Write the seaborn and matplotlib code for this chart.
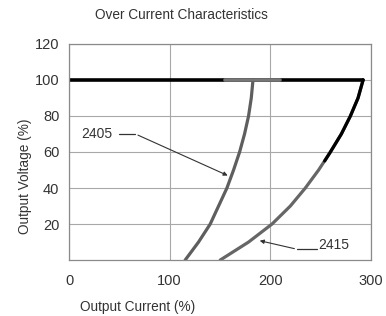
import pandas as pd
import seaborn as sns
import matplotlib.pyplot as plt

# curves: output voltage (%) vs output current (%)
volt = [0, 10, 20, 30, 40, 50, 60, 70, 80, 90, 100]
cur_2405 = [115.4, 128.7, 140.3, 148.6, 156.9, 163.5, 169.5, 174.4, 178.4, 181.1, 182.8]
cur_2415 = [150.2, 178.4, 201.7, 219.9, 234.8, 248.0, 259.7, 270.6, 279.6, 287.2, 292.2]

# part of 2415 drawn in black (upper part)
volt_2415_top = [55, 60, 70, 80, 90, 100]
cur_2415_top = [254.0, 259.7, 270.6, 279.6, 287.2, 292.2]

# flat 100 % line and its grey middle piece
flat_cur = [0, 292.2]
flat_grey_cur = [155, 210]

x_ticks = [0, 100, 200, 300]
y_ticks = [20, 40, 60, 80, 100, 120]

sns.set_style("white")
plt.rcParams['font.family'] = ['Liberation Sans', 'DejaVu Sans']

fig = plt.figure(figsize=(3.86, 3.16), dpi=100)
ax = fig.add_axes([0.1788, 0.177, 0.7822, 0.684])

df = pd.DataFrame({'I': cur_2405 + cur_2415, 'V': volt + volt,
                   'model': ['2405'] * len(volt) + ['2415'] * len(volt)})
sns.lineplot(data=df, x='I', y='V', hue='model', sort=False, ax=ax,
             palette={'2405': '#5e5e5e', '2415': '#666666'}, lw=2.3, legend=False)
sns.lineplot(x=cur_2415_top, y=volt_2415_top, sort=False, ax=ax, color='black', lw=2.3)
sns.lineplot(x=flat_cur, y=[100, 100], ax=ax, color='black', lw=2.6)
sns.lineplot(x=flat_grey_cur, y=[100, 100], ax=ax, color='#777777', lw=2.6)

ax.set_xlim(0, 300)
ax.set_ylim(0, 120)
ax.set_xticks(x_ticks)
ax.set_yticks(y_ticks)
ax.grid(True, color='#a8a8a8', lw=0.8)
ax.set_axisbelow(True)
for s in ax.spines.values():
    s.set_color('#8a8a8a')
    s.set_linewidth(0.9)
ax.tick_params(length=0, labelsize=10.5, labelcolor='#333333')
ax.tick_params(axis='x', pad=10)
ax.tick_params(axis='y', pad=7)

ax.set_xlabel('Output Current (%)', fontsize=9.8, color='#333333')
ax.set_ylabel('Output Voltage (%)', fontsize=9.8, color='#333333')
ax.xaxis.set_label_coords(0.228, -0.185)
ax.yaxis.set_label_coords(-0.122, 0.39)
fig.text(0.4707, 0.952, 'Over Current Characteristics', fontsize=9.8,
         color='#333333', ha='center', va='center')

# leaders
ax.plot([50, 66], [70, 70], color='#333333', lw=0.9)
ax.annotate('', xy=(160.2, 46.3), xytext=(66, 70),
            arrowprops=dict(arrowstyle='-|>', color='#333333', lw=0.8, mutation_scale=6))
ax.text(28, 70, '2405', fontsize=10, color='#333333', ha='center', va='center')

ax.plot([226.6, 246], [6, 6], color='#333333', lw=0.9)
ax.annotate('', xy=(186.8, 11.1), xytext=(226.6, 6),
            arrowprops=dict(arrowstyle='-|>', color='#333333', lw=0.8, mutation_scale=6))
ax.text(248, 8.5, '2415', fontsize=10, color='#333333', ha='left', va='center')

fig.savefig('out.png', dpi=100)
